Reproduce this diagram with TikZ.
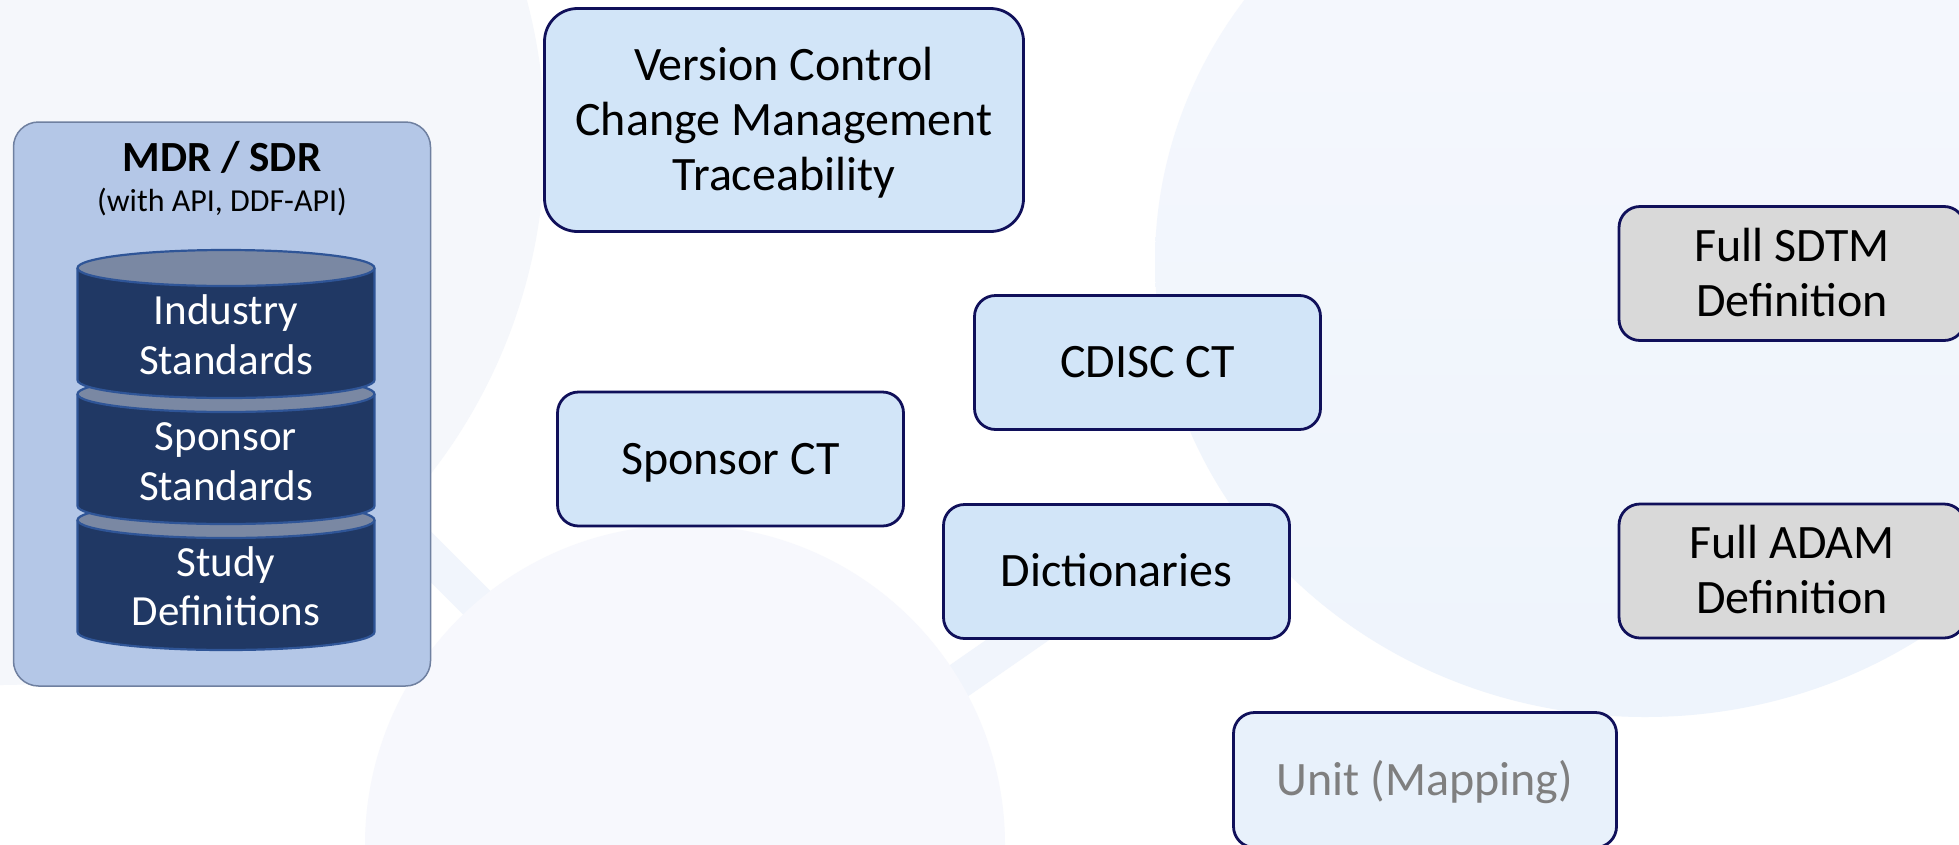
\documentclass[tikz,border=0pt]{standalone}
\usepackage{fontspec}
\setmainfont{Carlito}
\definecolor{navy}{HTML}{10105A}
\definecolor{cardblue}{HTML}{D2E5F8}
\definecolor{cardgray}{HTML}{D9D9D9}
\definecolor{cardpale}{HTML}{E8F1FB}
\definecolor{mdrfill}{HTML}{B4C7E7}
\definecolor{mdredge}{HTML}{6F80A0}
\definecolor{cylbodyc}{HTML}{203864}
\definecolor{cyltopc}{HTML}{7A88A3}
\definecolor{cyledgec}{HTML}{2F5597}
\definecolor{bgA}{HTML}{F5F7FB}
\definecolor{bgB}{HTML}{F7F8FD}
\definecolor{bgCtop}{HTML}{F6F8FD}
\definecolor{bgCbot}{HTML}{EEF4FC}
\definecolor{bandc}{HTML}{F1F5FC}
\definecolor{paletext}{HTML}{7F7F7F}
\newcommand\mainsz{\fontsize{48}{55}\selectfont}
\newcommand\cylsz{\fontsize{43}{49.5}\selectfont}
\newcommand\linestrut{\rule[-12.25pt]{0pt}{55pt}}
\newcommand\cylstrut{\rule[-11pt]{0pt}{49.5pt}}
\tikzset{
  card/.style={draw=navy, line width=2.8pt, rounded corners=21pt,
    minimum width=346pt, minimum height=134pt, inner sep=0pt,
    align=center, font=\mainsz},
  mdrbox/.style={draw=mdredge, line width=1.5pt, fill=mdrfill,
    rounded corners=25pt, minimum width=417pt, minimum height=564pt},
  band/.style={line width=36pt, draw=bandc},
  cylbody/.style={fill=cylbodyc},
  cyledge/.style={draw=cyledgec, line width=2.2pt},
  cyltext/.style={text=white, align=center, inner sep=0pt, font=\cylsz},
}
% one slice of the storage cylinder: top ellipse centre #1, bottom centre #2
\newcommand\cylseg[2]{%
  \fill[cylbody] (77.5,#1) -- (77.5,#2) arc (180:0:148.5 and 18)
    -- (374.5,#1) arc (0:-180:148.5 and 18) -- cycle;
  \draw[cyledge] (77.5,#1) -- (77.5,#2) arc (180:0:148.5 and 18) -- (374.5,#1);
  \draw[cyledge, fill=cyltopc] (226,#1) ellipse [x radius=148.5, y radius=18];
}
\begin{document}
\begin{tikzpicture}[x=1pt,y=-1pt]
\useasboundingbox (0,0) rectangle (1959,844);
\clip (0,0) rectangle (1959,844);
\fill[white] (0,0) rectangle (1959,844);

% faint background network: bands under three soft discs
\coordinate (netA) at (0,126);
\coordinate (netB1) at (700,826);
\coordinate (netB2) at (685,871);
\coordinate (netC) at (1150,548);
\draw[band] (netA) -- (netB1);
\draw[band] (netB2) -- (netC);
\fill[bgA] (0,140) circle [radius=545pt];
\fill[bgB] (685,845) circle [radius=320pt];
\shade[top color=bgCtop, bottom color=bgCbot] (1645,262) ellipse [x radius=490pt, y radius=455pt];

% repository panel
\node[mdrbox] (mdr) at (222,404) {};
\node[anchor=base, inner sep=0pt, font=\fontsize{43}{50}\selectfont\bfseries] (mdrtitle) at (222,171) {MDR / SDR};
\node[anchor=base, inner sep=0pt, font=\fontsize{32}{38}\selectfont] (mdrsub) at (222,211) {(with API, DDF-API)};

% stacked storage cylinder, drawn bottom slice first
\cylseg{520}{632}
\cylseg{394}{506}
\cylseg{268}{380}
\node[cyltext] (ind) at (226,335.5) {\cylstrut Industry\\\cylstrut Standards};
\node[cyltext] (spo) at (226,461.5) {\cylstrut Sponsor\\\cylstrut Standards};
\node[cyltext] (stu) at (226,587) {\cylstrut Study\\\cylstrut Definitions};

% content boxes
\node[card, fill=cardblue, minimum width=479pt, minimum height=223pt, rounded corners=33pt] (vc) at (784,120)
  {\linestrut Version Control\\\linestrut Change Management\\\linestrut Traceability};
\node[card, fill=cardblue] (sct) at (730.5,459) {\linestrut Sponsor CT};
\node[card, fill=cardblue] (cct) at (1147.5,362.5) {\linestrut CDISC CT};
\node[card, fill=cardblue] (dic) at (1116.5,571.5) {\linestrut Dictionaries};
\node[card, fill=cardgray] (sdtm) at (1792,273.5) {\linestrut Full SDTM\\\linestrut Definition};
\node[card, fill=cardgray] (adam) at (1792,571) {\linestrut Full ADAM\\\linestrut Definition};
\node[card, fill=cardpale, text=paletext, minimum width=383pt, minimum height=135pt] (unit) at (1425,780) {\linestrut Unit (Mapping)};
\end{tikzpicture}
\end{document}
